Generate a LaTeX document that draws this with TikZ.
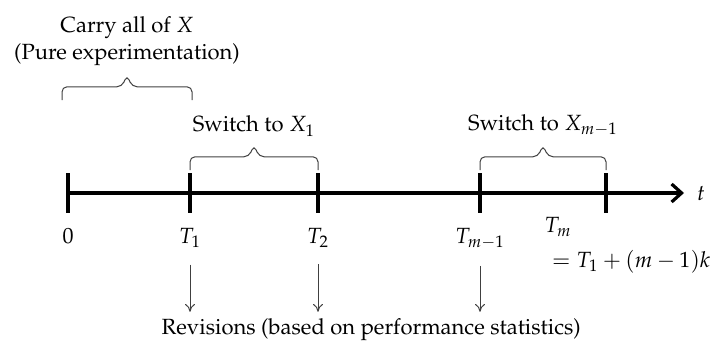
\documentclass[tikz,border=0pt]{standalone}
\usepackage[T1]{fontenc}
\usepackage{mathpazo}
\usepackage{amsmath}
\usetikzlibrary{calc,positioning,arrows.meta}

% brace over an interval: start, end, name, text
\newcommand{\braceover}[4]{%
    \path (#1) -- (#2) coordinate[midway] (#3m);
    \draw[span] (#1) -- ($(#1)+(0,0.33)$) -- ($(#3m)+(-0.13,0.33)$)
        -- ($(#3m)+(0,0.62)$) -- ($(#3m)+(0.13,0.33)$) -- ($(#2)+(0,0.33)$) -- (#2);
    \node[above=1pt,align=center] (#3) at ($(#3m)+(0,0.62)$) {#4};
}

\begin{document}
\begin{tikzpicture}[x=20pt,y=20pt,font=\fontsize{11}{13.5}\selectfont,
    axisline/.style={line width=1.6pt},
    tickmark/.style={line width=1.6pt},
    span/.style={draw=black!75,line width=0.5pt,rounded corners=2.5pt},
    revarrow/.style={-{To[length=4pt,width=5pt]},draw=black!75,line width=0.5pt}]
    \useasboundingbox (0,0) rectangle (17.8,8.625);

    % time points on the axis
    \coordinate (O) at (1.7,3.8);
    \coordinate (T1) at (4.75,3.8);
    \coordinate (T2) at (7.95,3.8);
    \coordinate (Tk) at (12,3.8);
    \coordinate (Tm) at (15.15,3.8);
    \coordinate (E) at (17.1,3.8);

    \draw[axisline,-{Straight Barb[length=5pt,width=9pt]}] (O) -- (E);
    \node[right=3pt] (t) at (E) {$t$};

    \foreach \p in {O,T1,T2,Tk,Tm}
        \draw[tickmark] ($(\p)+(0,0.5)$) -- ($(\p)+(0,-0.5)$);

    % labels under the ticks
    \node[below=4pt] (l0) at ($(O)+(0,-0.5)$) {$0$};
    \node[below=4pt] (l1) at ($(T1)+(0,-0.5)$) {$T_1$};
    \node[below=4pt] (l2) at ($(T2)+(0,-0.5)$) {$T_2$};
    \node[below=4pt] (lk) at ($(Tk)+(0,-0.5)$) {$T_{m-1}$};
    \node (lm) at (13.95,2.95) {$T_m$};
    \node (lmeq) at (15.78,2.075) {$= T_1 + (m-1)k$};

    % braces over the intervals
    \coordinate (b1s) at (1.55,6.125);
    \coordinate (b1e) at (4.8,6.125);
    \braceover{b1s}{b1e}{carry}{Carry all of $X$\\(Pure experimentation)}
    \coordinate (b2s) at ($(T1)+(0,0.575)$);
    \coordinate (b2e) at ($(T2)+(0,0.575)$);
    \braceover{b2s}{b2e}{sw1}{Switch to $X_1$}
    \coordinate (b3s) at ($(Tk)+(0,0.575)$);
    \coordinate (b3e) at ($(Tm)+(0,0.575)$);
    \braceover{b3s}{b3e}{swk}{Switch to $X_{m-1}$}

    % revisions
    \node (rev) at (9.28,0.375) {Revisions (based on performance statistics)};
    \foreach \l in {l1,l2,lk}
        \draw[revarrow] ([yshift=-5pt]\l.south) -- (\l |- rev.north);
\end{tikzpicture}
\end{document}
